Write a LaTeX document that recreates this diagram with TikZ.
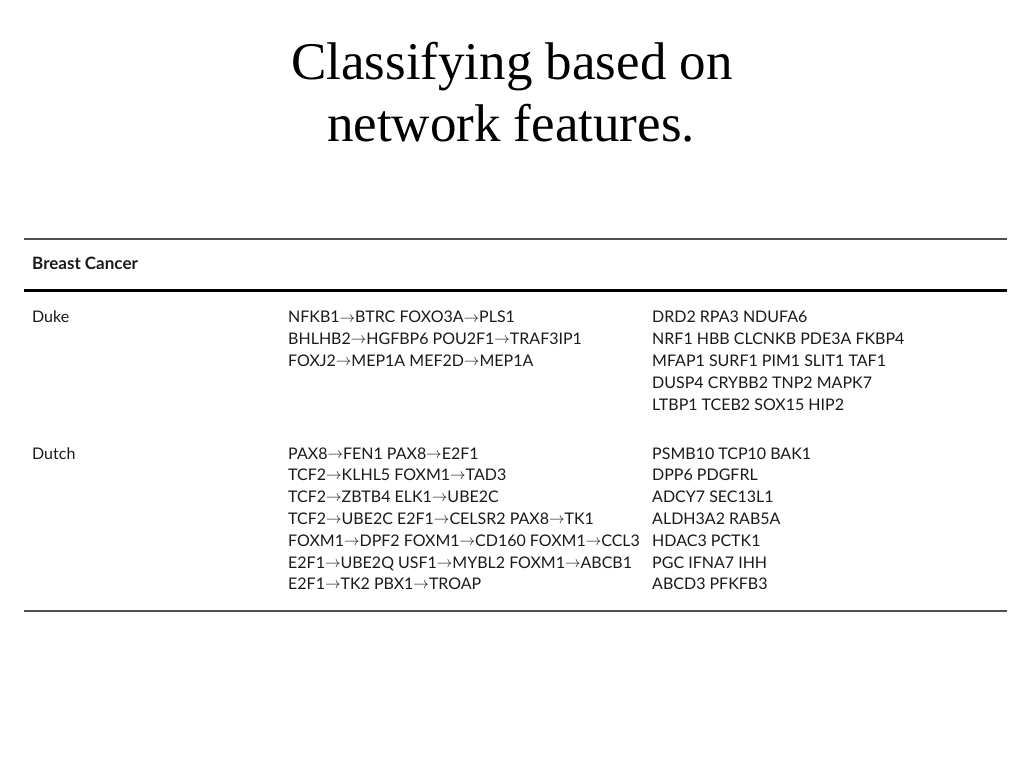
\documentclass[tikz,border=0pt]{standalone}
\usepackage{fontspec}
\setmainfont{Liberation Serif}
\newfontfamily\gillfont{Lato}
\newcommand{\garr}{\raisebox{0.1ex}{\scalebox{0.9}{$\rightarrow$}}}
\definecolor{rulegray}{HTML}{505050}
\definecolor{txt}{HTML}{1A1A1A}
\begin{document}
\begin{tikzpicture}[x=1pt,y=-1pt,
  titletext/.style={anchor=base,inner sep=0pt,font=\fontsize{53}{60}\selectfont,text=black},
  cell/.style={anchor=base west,inner sep=0pt,font=\gillfont\fontsize{16}{20}\selectfont,text=txt},
  headcell/.style={cell,font=\gillfont\bfseries\fontsize{17}{20}\selectfont},
  thinrule/.style={draw=rulegray,line width=2pt},
  thickrule/.style={draw=black,line width=3pt}]
\useasboundingbox[fill=white] (0,0) rectangle (1023,767);
\node[titletext] (t1) at (512,80) {Classifying based on};
\node[titletext] (t2) at (511,142) {network features.};
\coordinate (r1a) at (24,239.5); \coordinate (r1b) at (1007,239.5);
\coordinate (r2a) at (24,291); \coordinate (r2b) at (1007,291);
\coordinate (r3a) at (24,611); \coordinate (r3b) at (1007,611);
\draw[thinrule] (r1a) -- (r1b);
\draw[thickrule] (r2a) -- (r2b);
\draw[thinrule] (r3a) -- (r3b);
\node[headcell] (hd) at (32,270) {Breast Cancer};
\node[cell] (duke) at (32,323) {Duke};
\node[cell] (dutch) at (32,459) {Dutch};
\foreach \t [count=\i] in {
  NFKB1\garr BTRC FOXO3A\garr PLS1,
  BHLHB2\garr HGFBP6 POU2F1\garr TRAF3IP1,
  FOXJ2\garr MEP1A MEF2D\garr MEP1A}
  \node[cell] (dukem\i) at (288,{323+21.8*(\i-1)}) {\t};
\foreach \t [count=\i] in {
  DRD2 RPA3 NDUFA6,
  NRF1 HBB CLCNKB PDE3A FKBP4,
  MFAP1 SURF1 PIM1 SLIT1 TAF1,
  DUSP4 CRYBB2 TNP2 MAPK7,
  LTBP1 TCEB2 SOX15 HIP2}
  \node[cell] (duker\i) at (652,{323+21.8*(\i-1)}) {\t};
\foreach \t [count=\i] in {
  PAX8\garr FEN1 PAX8\garr E2F1,
  TCF2\garr KLHL5 FOXM1\garr TAD3,
  TCF2\garr ZBTB4 ELK1\garr UBE2C,
  TCF2\garr UBE2C E2F1\garr CELSR2 PAX8\garr TK1,
  FOXM1\garr DPF2 FOXM1\garr CD160 FOXM1\garr CCL3,
  E2F1\garr UBE2Q USF1\garr MYBL2 FOXM1\garr ABCB1,
  E2F1\garr TK2 PBX1\garr TROAP}
  \node[cell] (dutchm\i) at (288,{459+21.8*(\i-1)}) {\t};
\foreach \t [count=\i] in {
  PSMB10 TCP10 BAK1,
  DPP6 PDGFRL,
  ADCY7 SEC13L1,
  ALDH3A2 RAB5A,
  HDAC3 PCTK1,
  PGC IFNA7 IHH,
  ABCD3 PFKFB3}
  \node[cell] (dutchr\i) at (652,{459+21.8*(\i-1)}) {\t};
\end{tikzpicture}
\end{document}
